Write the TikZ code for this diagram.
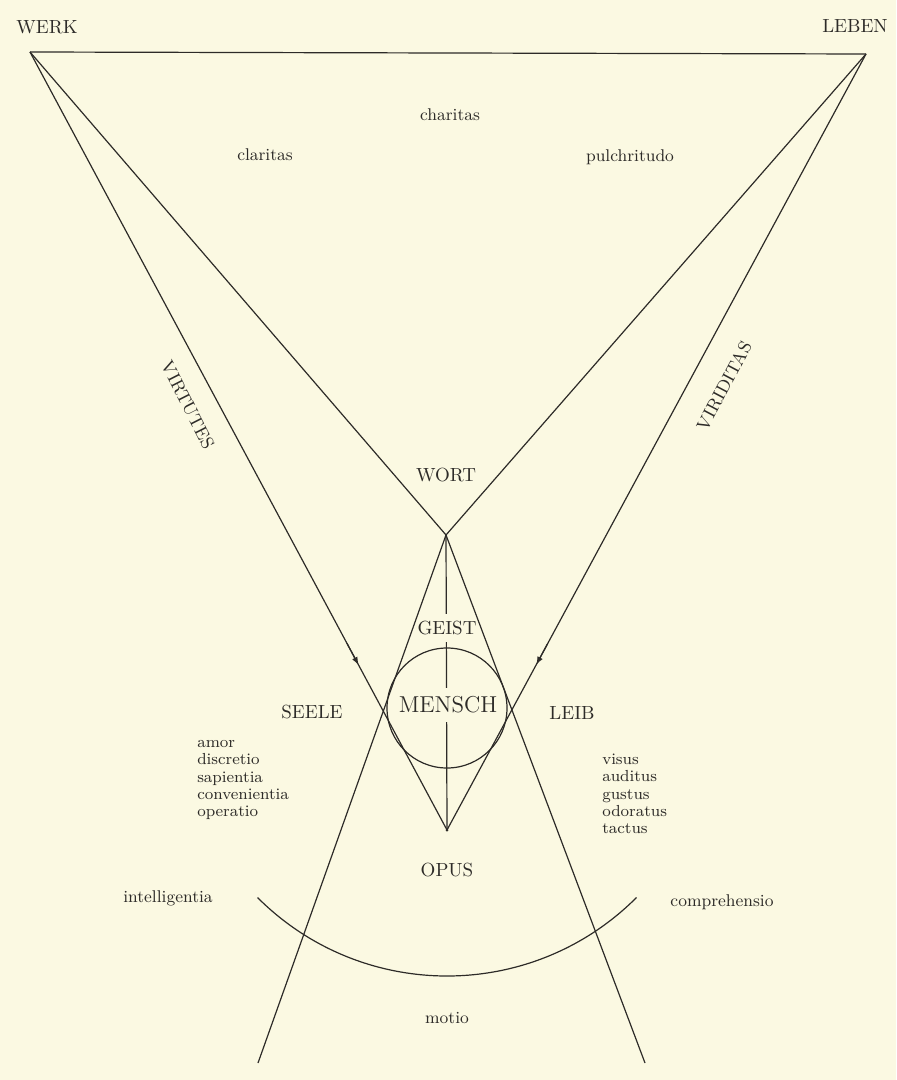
\documentclass[tikz,border=0pt]{standalone}
\usepackage{fontspec}
\usepackage{tikz}
\usetikzlibrary{arrows.meta, calc}

\definecolor{paper}{RGB}{251,249,226}
\definecolor{ink}{RGB}{45,43,40}

\tikzset{
    caps/.style={font=\fontsize{9.5}{11}\selectfont},
    spaced/.style={font={\fontsize{9}{11}\selectfont\addfontfeatures{LetterSpace=14}}},
    word/.style={font=\fontsize{8.5}{10}\selectfont},
    wordlist/.style={font=\fontsize{8}{8.6}\selectfont, align=left, anchor=west},
    gap/.style={fill=paper, inner xsep=1pt},
}

\begin{document}
\begin{tikzpicture}[x=0.5pt, y=-0.5pt, color=ink, line width=0.6pt]
    % Paper
    \fill[paper] (0,0) rectangle (896,1080);

    % Corner points of the figure
    \coordinate (werk)  at (30,52);
    \coordinate (leben) at (866,54);
    \coordinate (wort)  at (446,535);
    \coordinate (opus)  at (447,830);
    \coordinate (footl) at (258,1063);
    \coordinate (footr) at (645,1063);
    \coordinate (mid)   at (447,708);

    % Upper triangle
    \draw (werk) -- (leben);
    \draw (werk) -- (wort) -- (leben);

    % Axis, broken by GEIST and MENSCH
    \draw (wort) -- (opus);
    \fill (opus) circle (1.5);
    \node[caps, gap, inner ysep=3.5pt] (geist) at (447,628) {GEIST};
    \node[caps, gap, inner ysep=4.5pt, font=\fontsize{11.5}{13}\selectfont] (mensch) at (448,705) {MENSCH};

    % VIRTUTES and VIRIDITAS, down to OPUS
    \draw (werk) -- (opus) -- (leben);
    \coordinate (vmark) at ($(werk)!0.788!(opus)$);
    \coordinate (rmark) at ($(leben)!0.787!(opus)$);
    \draw[-{Latex[length=4pt,width=3pt]}] ($(werk)!0.76!(opus)$) -- (vmark);
    \draw[-{Latex[length=4pt,width=3pt]}] ($(leben)!0.76!(opus)$) -- (rmark);

    % Legs from WORT
    \draw (wort) -- (footl);
    \draw (wort) -- (footr);

    % Circle round MENSCH
    \draw (mid) circle (60);

    % Lower arc
    \draw ($(mid)+(135:268)$) arc (135:45:268);

    % Labels
    \node[caps] (werkl)  at (47,27)  {WERK};
    \node[caps] (lebenl) at (855,26) {LEBEN};
    \node[word] (charitas)    at (450,115) {charitas};
    \node[word] (claritas)    at (265,155) {claritas};
    \node[word] (pulchritudo) at (630,157) {pulchritudo};
    \node[spaced, rotate=-63] (virtutes)  at (188,405) {VIRTUTES};
    \node[spaced, rotate=62]  (viriditas) at (724,386) {VIRIDITAS};
    \node[caps] (wortl) at (446,475) {WORT};
    \node[caps] (seele) at (312,712) {SEELE};
    \node[caps] (leib)  at (572,713) {LEIB};
    \node[caps] (opusl) at (447,870) {OPUS};

    \node[wordlist] (anima) at (190,780)
        {amor\\discretio\\sapientia\\convenientia\\operatio};
    \node[wordlist] (sensus) at (595,794)
        {visus\\auditus\\gustus\\odoratus\\tactus};

    \node[word] (intelligentia) at (168,898)  {intelligentia};
    \node[word] (comprehensio)  at (722,902)  {comprehensio};
    \node[word] (motio)         at (447,1018) {motio};
\end{tikzpicture}
\end{document}
